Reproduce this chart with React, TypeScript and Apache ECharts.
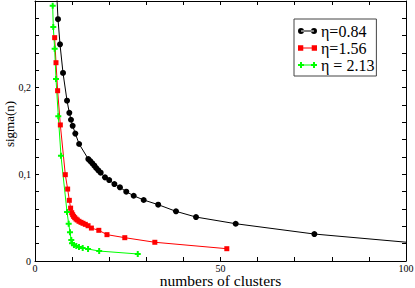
import React, { useEffect, useRef } from "react";
import * as echarts from "echarts";

const xTickValues = [0, 50, 100];
const yTickValues = [0, 0.1, 0.2];

const seriesNames = ["η=0.84", "η=1.56", "η = 2.13"];

const blackX = [5.6, 6.2, 6.74, 7.55, 8.63, 9.25, 9.7, 10.15, 10.87, 11.9, 14.37, 14.9, 15.45, 16.0, 16.5, 17.06, 17.7, 18.87, 20.0, 21.4, 22.9, 24.6, 26.6, 29.3, 33.2, 38.0, 43.4, 54.1, 75.3, 115];
const blackY = [0.33, 0.279, 0.25, 0.217, 0.185, 0.171, 0.163, 0.156, 0.147, 0.135, 0.1176, 0.1153, 0.1127, 0.11, 0.1073, 0.1046, 0.1019, 0.0965, 0.0934, 0.0888, 0.085, 0.08, 0.0753, 0.0704, 0.065, 0.0573, 0.0507, 0.043, 0.0311, 0.016];

const redX = [5.3, 5.66, 6.1, 6.83, 8.17, 8.8, 9.25, 9.6, 9.9, 10.15, 10.4, 10.7, 11.05, 11.4, 11.86, 12.4, 12.94, 13.56, 14.3, 15.2, 17.2, 19.4, 24.2, 32.3, 51.7];
const redY = [0.2577, 0.2288, 0.1965, 0.157, 0.0996, 0.083, 0.07, 0.061, 0.0557, 0.0534, 0.0515, 0.05, 0.0484, 0.0473, 0.0458, 0.0446, 0.0435, 0.0423, 0.0407, 0.038, 0.0354, 0.0304, 0.0269, 0.0216, 0.0142];

const greenX = [4.77, 4.93, 5.3, 5.66, 6.28, 7.0, 8.63, 9.08, 9.43, 9.78, 9.97, 10.5, 11.13, 11.86, 12.86, 14.3, 17.3, 27.7];
const greenY = [0.2945, 0.27, 0.2449, 0.21, 0.167, 0.1215, 0.0565, 0.043, 0.0331, 0.0242, 0.0204, 0.0185, 0.0173, 0.0161, 0.015, 0.0138, 0.0115, 0.0081];

const zip = (xs: number[], ys: number[]) => xs.map((x, i) => [x, ys[i]]);

const plusSymbol = "path://M2,0H4V2H6V4H4V6H2V4H0V2H2Z";

const iconCircle =
  "path://M0,3a3,3 0 1,0 6,0a3,3 0 1,0 -6,0Z M13,3a3,3 0 1,0 6,0a3,3 0 1,0 -6,0Z M3,2.5H16V3.5H3Z";
const iconSquare =
  "path://M0.5,0.5H5.5V5.5H0.5Z M13.5,0.5H18.5V5.5H13.5Z M3,2.5H16V3.5H3Z";
const iconPlus =
  "path://M2,0H4V2H6V4H4V6H2V4H0V2H2Z M15,0H17V2H19V4H17V6H15V4H13V2H15Z M3,2.5H16V3.5H3Z";

const font = "Liberation Serif, Times New Roman, serif";

export default function App() {
  const ref = useRef<HTMLDivElement>(null);
  useEffect(() => {
    if (!ref.current) return;
    const chart = echarts.init(ref.current, undefined, { renderer: "svg" });
    const near = (v: number, arr: number[]) => arr.some((t) => Math.abs(t - v) < 1e-6);
    const commonX = {
      type: "value" as const,
      min: 0,
      max: 100,
      interval: 10,
      splitLine: { show: false },
      axisLine: { show: true, onZero: false, lineStyle: { color: "#000", width: 1 } },
      axisTick: { show: true, inside: true, length: 4, lineStyle: { color: "#000" } },
    };
    const commonY = {
      type: "value" as const,
      min: 0,
      max: 0.3,
      interval: 0.02,
      splitLine: { show: false },
      axisLine: { show: true, onZero: false, lineStyle: { color: "#000", width: 1 } },
      axisTick: { show: true, inside: true, length: 4, lineStyle: { color: "#000" } },
    };
    chart.setOption({
      animation: false,
      backgroundColor: "#fff",
      textStyle: { fontFamily: font },
      grid: { left: 35, right: 9, top: 1, bottom: 27, containLabel: false, outerBoundsMode: "none" },
      legend: {
        orient: "vertical",
        left: 294,
        top: 19,
        itemWidth: 19,
        itemHeight: 6,
        itemGap: 1,
        padding: [4, 2, 3, 4],
        borderColor: "#444",
        borderWidth: 1,
        backgroundColor: "#fff",
        textStyle: {
          fontFamily: font,
          fontSize: 16,
          lineHeight: 16,
          color: "#000",
          padding: [0, 0, 0, -1],
        },
        data: [
          { name: seriesNames[0], icon: iconCircle },
          { name: seriesNames[1], icon: iconSquare },
          { name: seriesNames[2], icon: iconPlus },
        ],
      },
      xAxis: [
        {
          ...commonX,
          position: "bottom",
          name: "numbers of clusters",
          nameLocation: "middle",
          nameGap: 12,
          nameMoveOverlap: false,
          nameTextStyle: { fontFamily: font, fontSize: 15.5, lineHeight: 14, color: "#000" },
          axisLabel: {
            show: true,
            fontFamily: font,
            fontSize: 10,
            lineHeight: 10,
            color: "#000",
            margin: 2,
            formatter: (v: number) => (near(v, xTickValues) ? String(v) : ""),
          },
        },
        { ...commonX, position: "top", axisLabel: { show: false } },
      ],
      yAxis: [
        {
          ...commonY,
          position: "left",
          name: "sigma(n)",
          nameLocation: "middle",
          nameGap: 19,
          nameMoveOverlap: false,
          nameTextStyle: { fontFamily: font, fontSize: 13, color: "#000", padding: [0, 0, 0, 14] },
          axisLabel: {
            show: true,
            fontFamily: font,
            fontSize: 10,
            color: "#000",
            margin: 4,
            formatter: (v: number) =>
              near(v, yTickValues) ? String(Math.round(v * 10) / 10).replace(".", ",") : "",
          },
        },
        { ...commonY, position: "right", axisLabel: { show: false } },
      ],
      series: [
        {
          name: seriesNames[0],
          type: "line",
          data: zip(blackX, blackY),
          symbol: "circle",
          symbolSize: 6,
          color: "#000",
          lineStyle: { width: 1, color: "#000" },
          itemStyle: { color: "#000" },
          clip: true,
        },
        {
          name: seriesNames[1],
          type: "line",
          data: zip(redX, redY),
          symbol: "rect",
          symbolSize: 5,
          color: "#ff0000",
          lineStyle: { width: 1, color: "#ff0000" },
          itemStyle: { color: "#ff0000" },
          clip: true,
        },
        {
          name: seriesNames[2],
          type: "line",
          data: zip(greenX, greenY),
          symbol: plusSymbol,
          symbolSize: 6,
          color: "#00ff00",
          lineStyle: { width: 1, color: "#00ff00" },
          itemStyle: { color: "#00ff00" },
          clip: true,
        },
      ],
    });
    return () => chart.dispose();
  }, []);
  return <div ref={ref} style={{ width: 415, height: 288, position: "absolute", left: 0, top: 0 }} />;
}
